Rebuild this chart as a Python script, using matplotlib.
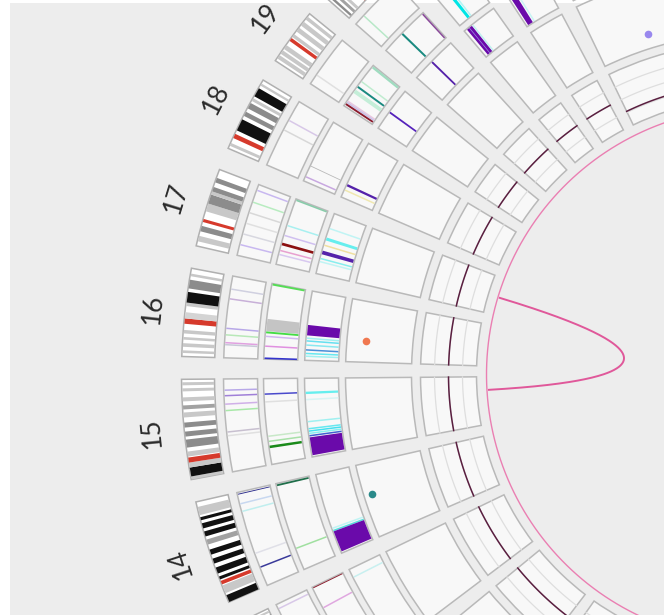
import numpy as np
import matplotlib
matplotlib.use("Agg")
import matplotlib.pyplot as plt
from matplotlib.patches import Rectangle

# ---------------- data ----------------
CHROMS = ['1', '2', '3', '4', '5', '6', '7', '8', '9', '10', '11', '12',
          '13', '14', '15', '16', '17', '18', '19', '20', '21', '22', 'X', 'Y']
SIZES_MB = [249.25, 243.20, 198.02, 191.15, 180.92, 171.12, 159.14, 146.36,
            141.21, 135.53, 135.01, 133.85, 115.17, 107.35, 102.53, 90.35,
            81.20, 78.08, 59.13, 63.03, 48.13, 51.30, 155.27, 59.37]
GAP_DEG = 2.29

BLK, G75, G50, G25, ACEN = '#111111', '#8c8c8c', '#a2a2a2', '#c8c8c8', '#d63a2c'

# cytobands: (chrom, start Mb, end Mb, colour)
CYTOBANDS = [
    ('13', 80.0, 86.0, G50), ('13', 96.7, 101.3, BLK), ('13', 103.7, 108.3, BLK), ('13', 110.6, 112.9, G25),
    ('14', 0.0, 7.5, BLK), ('14', 9.7, 18.2, G25), ('14', 19.3, 23.1, ACEN), ('14', 24.7, 27.9, BLK),
    ('14', 31.1, 37.6, BLK), ('14', 41.9, 47.2, BLK), ('14', 51.5, 56.9, BLK), ('14', 62.3, 67.6, G50),
    ('14', 70.9, 76.2, BLK), ('14', 79.4, 84.8, BLK), ('14', 88.0, 91.2, BLK), ('14', 93.4, 102.0, G25),
    ('15', 0.0, 3.1, G25), ('15', 3.1, 12.3, BLK), ('15', 12.3, 17.4, G25), ('15', 17.4, 22.6, ACEN),
    ('15', 23.6, 28.7, G25), ('15', 32.8, 41.0, G75), ('15', 44.1, 49.2, G75), ('15', 53.3, 58.4, G75),
    ('15', 63.6, 68.7, G25), ('15', 71.8, 75.9, G50), ('15', 80.0, 84.1, G25), ('15', 90.2, 93.3, G25),
    ('15', 96.4, 99.5, G25),
    ('16', 3.6, 6.3, G25), ('16', 9.9, 13.6, G25), ('16', 17.2, 19.9, G25), ('16', 23.5, 27.1, G25),
    ('16', 33.4, 38.9, ACEN), ('16', 38.9, 45.2, '#d4d4d4'), ('16', 51.5, 55.1, G25), ('16', 55.1, 66.0, BLK),
    ('16', 69.6, 78.6, G75), ('16', 82.2, 84.9, G25),
    ('17', 4.9, 10.6, G25), ('17', 15.4, 21.1, G75), ('17', 25.2, 28.4, ACEN), ('17', 36.5, 44.7, G25),
    ('17', 44.7, 54.4, G75), ('17', 54.4, 57.7, G25), ('17', 57.7, 62.5, G75), ('17', 67.4, 72.3, G75),
    ('18', 3.1, 6.2, G25), ('18', 11.7, 16.4, ACEN), ('18', 20.3, 32.8, BLK), ('18', 36.7, 41.4, G75),
    ('18', 45.3, 51.5, G75), ('18', 53.9, 57.0, G25), ('18', 59.3, 68.7, BLK), ('18', 71.8, 74.2, G25),
    ('19', 3.0, 7.1, G25), ('19', 8.9, 13.0, G25), ('19', 14.8, 19.5, G25), ('19', 24.8, 28.4, ACEN),
    ('19', 29.6, 33.1, G25), ('19', 36.7, 41.4, G25), ('19', 44.3, 49.1, G25), ('19', 52.0, 55.6, G25),
    ('20', 2.5, 5.0, G75), ('20', 7.6, 10.7, G50), ('20', 12.6, 15.8, G25), ('20', 25.2, 28.4, ACEN),
]

# track features: (chrom, start Mb, end Mb, colour); start == end -> thin line
TRACK2 = [
    ('13', 110.0, 110.0, '#d8c8e8'),
    ('14', 104.8, 105.8, '#2a2a8a'), ('14', 94.5, 94.5, '#c8d8f0'), ('14', 85.9, 85.9, '#c0eeee'),
    ('14', 37.6, 37.6, '#e0e0e8'), ('14', 21.5, 21.5, '#3a3a9a'),
    ('15', 90.2, 90.2, '#b8a8e8'), ('15', 84.1, 84.1, '#a080d8'), ('15', 74.8, 74.8, '#d0b0e8'),
    ('15', 67.7, 67.7, '#a8e8a8'), ('15', 44.1, 44.1, '#c8c0d0'), ('15', 40.0, 40.0, '#e0e0e0'),
    ('16', 75.9, 75.9, '#d0d0e0'), ('16', 65.1, 65.1, '#c8b0d8'), ('16', 32.5, 32.5, '#b8a8e8'),
    ('16', 25.3, 25.3, '#b8e8b8'), ('16', 16.7, 16.7, '#e0a0e0'), ('16', 14.5, 14.5, '#c8c8d8'),
    ('17', 74.7, 74.7, '#c8b8f0'), ('17', 60.9, 60.9, '#b8ecc0'), ('17', 48.7, 48.7, '#d8d8d8'),
    ('17', 36.5, 36.5, '#e0e0e0'), ('17', 24.4, 24.4, '#d8d8e0'), ('17', 12.2, 12.2, '#c8b8f0'),
    ('18', 42.9, 42.9, '#d8d8d8'), ('18', 54.7, 54.7, '#d8c8e8'),
    ('19', 11.8, 11.8, '#e0e0e0'),
    ('20', 12.6, 12.6, '#b8e8c8'),
]
TRACK3 = [
    ('13', 113.5, 114.6, '#8b1a2b'), ('13', 87.5, 87.5, '#e0a8e0'),
    ('14', 104.1, 106.3, '#1f6e4a'), ('14', 26.8, 26.8, '#a0e0a0'),
    ('15', 84.1, 84.1, '#4a4acc'), ('15', 74.8, 74.8, '#e0e0e0'), ('15', 33.8, 33.8, '#c8e8c8'),
    ('15', 27.7, 27.7, '#a8e0a8'), ('15', 19.5, 22.6, '#1a8a1a'),
    ('16', 88.0, 90.35, '#55dd55'), ('16', 33.4, 47.9, '#c4c4c4'), ('16', 30.7, 33.0, '#44dd44'),
    ('16', 27.1, 27.1, '#d0b8f0'), ('16', 15.4, 15.4, '#e090e0'), ('16', 0.0, 2.0, '#3333cc'),
    ('17', 78.8, 80.8, '#88ccaa'), ('17', 47.9, 47.9, '#a8f0f0'), ('17', 35.7, 35.7, '#d0c0f0'),
    ('17', 23.5, 26.8, '#8b1010'), ('17', 17.1, 17.1, '#e8a0d0'), ('17', 12.2, 12.2, '#d8c8f0'),
    ('18', 19.0, 20.0, '#b8b8b8'), ('18', 5.5, 5.5, '#c8a8e0'),
    ('19', 55.6, 58.5, '#a0dcc0'), ('19', 35.5, 35.5, '#c0ecd0'), ('19', 26.6, 29.0, '#1a8a80'),
    ('19', 18.9, 23.7, '#c4eed8'), ('19', 7.1, 7.1, '#e8c8e0'), ('19', 5.3, 5.3, '#c8c0e8'),
    ('19', 1.8, 4.1, '#8b1a2b'),
    ('20', 26.5, 29.0, '#1a8a80'), ('20', 60.5, 62.4, '#8a4a9a'),
    ('21', 13.5, 17.3, '#00e5e5'), ('21', 18.3, 20.2, '#b0f4f4'),
]
TRACK4 = [
    ('13', 103.7, 103.7, '#c8f0f0'),
    ('14', 34.4, 34.4, '#c0f4f4'), ('14', 30.1, 32.2, '#55dddd'), ('14', 2.1, 30.1, '#6a0aaa'),
    ('15', 82.0, 85.1, '#66eeee'), ('15', 74.8, 74.8, '#d8f4f4'), ('15', 46.1, 46.1, '#a0f0f0'),
    ('15', 36.9, 36.9, '#66e8f0'), ('15', 33.8, 33.8, '#44e0f0'), ('15', 30.8, 30.8, '#88eef0'),
    ('15', 27.7, 27.7, '#4060d0'), ('15', 2.1, 25.6, '#6a0aaa'),
    ('16', 32.5, 46.1, '#6a0aaa'), ('16', 28.9, 28.9, '#a0f0f0'), ('16', 25.3, 25.3, '#66e0f0'),
    ('16', 19.9, 19.9, '#88e8f0'), ('16', 13.6, 13.6, '#4a90d8'), ('16', 9.0, 9.0, '#66e8f0'),
    ('16', 5.4, 5.4, '#a0f0f0'),
    ('17', 60.9, 60.9, '#c0f4f4'), ('17', 44.7, 48.7, '#66eeee'), ('17', 38.2, 38.2, '#f0e0a0'),
    ('17', 26.0, 30.9, '#5522aa'), ('17', 20.3, 20.3, '#88eeee'), ('17', 16.2, 16.2, '#c0f4f4'),
    ('18', 15.6, 18.7, '#5522aa'), ('18', 10.2, 10.2, '#f0e8b0'),
    ('19', 24.2, 26.6, '#5522bb'),
    ('20', 27.1, 29.6, '#5522aa'),
    ('21', 3.9, 12.0, '#6a0aaa'), ('21', 7.2, 8.2, '#9a8ae0'), ('21', 13.5, 13.5, '#c0f0f0'),
    ('22', 2.6, 10.3, '#6a0aaa'), ('22', 12.8, 12.8, '#c8f4f4'),
]
DOT_CHROMS = ['16', '14', 'X']
DOT_POS_MB = [32.5, 61.2, 87.0]
DOT_VALUES = [0.71, 0.88, 0.22]
DOT_COLORS = ['#f07850', '#2a8a8a', '#9988ee']

LINE_VALUES = [0.5, 0.5, 0.5, 0.5, 0.5, 0.5, 0.5, 0.5, 0.5, 0.5, 0.5, 0.5,
               0.5, 0.5, 0.5, 0.5, 0.5, 0.5, 0.5, 0.5, 0.5, 0.5, 0.27, 0.5]

LINK_FROM = ('17', 38.6)
LINK_TO = ('15', 73.8)

# ---------------- layout ----------------
CENTER_PX = (753.5, 374.5)
RMAX = 640
R_IDEO = (539, 572)
R_T2 = (496, 530)
R_T3 = (456, 490)
R_T4 = (415, 449)
R_T5 = (342, 408)
R_T6 = (277, 333)
R_LINK = 265
R_CIRCLE = 267
R_LABEL = 604

W, H = 664, 615
fig = plt.figure(figsize=(W / 100, H / 100), dpi=100, facecolor='white')
fig.patches.append(Rectangle((10 / W, 0), (W - 10) / W, (H - 3) / H, transform=fig.transFigure,
                             facecolor='#ededed', edgecolor='none', zorder=-10))
cx, cy = CENTER_PX
ax = fig.add_axes([(cx - RMAX) / W, (H - cy - RMAX) / H, 2 * RMAX / W, 2 * RMAX / H],
                  projection='polar')
ax.set_zorder(5)
ax.set_theta_zero_location('N')
ax.set_theta_direction(-1)
ax.set_ylim(0, RMAX)
ax.axis('off')

scale = (360 - GAP_DEG * len(CHROMS)) / sum(SIZES_MB)
starts = {}
acc = 0.0
for c, s in zip(CHROMS, SIZES_MB):
    starts[c] = acc
    acc += s * scale + GAP_DEG
size_of = dict(zip(CHROMS, SIZES_MB))


def ang(c, pos):
    return np.deg2rad(starts[c] + pos * scale)


def sector(c, p0, p1, ring, **kw):
    t0, t1 = ang(c, p0), ang(c, p1)
    ax.bar((t0 + t1) / 2, ring[1] - ring[0], width=t1 - t0, bottom=ring[0], **kw)


# boxes
for c in CHROMS:
    s = size_of[c]
    sector(c, 0, s, R_IDEO, facecolor='white', edgecolor='#b0b0b0', linewidth=1.1, zorder=2)
    for ring in (R_T2, R_T3, R_T4, R_T5, R_T6):
        sector(c, 0, s, ring, facecolor='#f8f8f8', edgecolor='#b9b9b9', linewidth=1.1, zorder=2)

# cytobands
for c, a, b, col in CYTOBANDS:
    sector(c, a, b, (R_IDEO[0] + 0.6, R_IDEO[1] - 0.6), facecolor=col, edgecolor='none',
           linewidth=0, zorder=3)

# feature tracks
for feats, ring in ((TRACK2, R_T2), (TRACK3, R_T3), (TRACK4, R_T4)):
    for c, a, b, col in feats:
        if b - a < 0.05:
            t = ang(c, a)
            ax.plot([t, t], [ring[0] + 0.8, ring[1] - 0.8], color=col, linewidth=1.1,
                    solid_capstyle='butt', zorder=4)
        else:
            sector(c, a, b, (ring[0] + 0.8, ring[1] - 0.8), facecolor=col, edgecolor='none',
                   linewidth=0, zorder=4)

# scatter track
for c, p, v, col in zip(DOT_CHROMS, DOT_POS_MB, DOT_VALUES, DOT_COLORS):
    ax.plot([ang(c, p)], [R_T5[0] + v * (R_T5[1] - R_T5[0])], 'o', color=col,
            markersize=5.5, markeredgewidth=0, zorder=5)

# line track with grid
for c, v in zip(CHROMS, LINE_VALUES):
    th = np.linspace(ang(c, 0), ang(c, size_of[c]), 120)
    for q in (0.25, 0.5, 0.75):
        ax.plot(th, np.full_like(th, R_T6[0] + q * (R_T6[1] - R_T6[0])), color='#dedede',
                linewidth=0.9, zorder=3)
    ax.plot(th, np.full_like(th, R_T6[0] + v * (R_T6[1] - R_T6[0])), color='#5a1f40',
            linewidth=1.1, zorder=4)

# inner circle
thc = np.linspace(0, 2 * np.pi, 720)
ax.plot(thc, np.full_like(thc, R_CIRCLE), color='#ea7fb2', linewidth=1.0, zorder=3)

# link (quadratic bezier through centre)
t1, t2 = ang(*LINK_FROM), ang(*LINK_TO)
p0 = np.array([R_LINK * np.sin(t1), R_LINK * np.cos(t1)])
p2 = np.array([R_LINK * np.sin(t2), R_LINK * np.cos(t2)])
tt = np.linspace(0, 1, 200)[:, None]
pts = (1 - tt) ** 2 * p0 + tt ** 2 * p2
ax.plot(np.arctan2(pts[:, 0], pts[:, 1]), np.hypot(pts[:, 0], pts[:, 1]), color='#e0589a',
        linewidth=1.4, zorder=5)

# chromosome labels (tangential, as on the ring)
for c in CHROMS:
    mid = starts[c] + size_of[c] * scale / 2
    ax.text(np.deg2rad(mid), R_LABEL, c, rotation=(-mid) % 360, rotation_mode='anchor',
            ha='center', va='center', fontsize=19, color='#2a2a2a',
            family=['Lato', 'DejaVu Sans'], fontweight='normal', zorder=6)

fig.savefig('out.png', dpi=100, facecolor='white')
